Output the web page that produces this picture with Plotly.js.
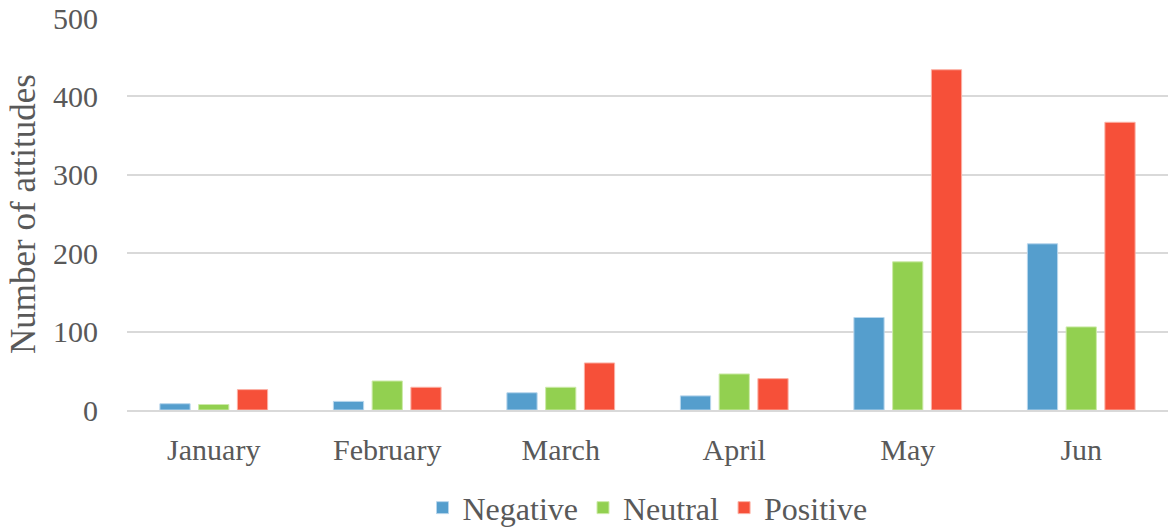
<!DOCTYPE html>
<html>
<head>
<meta charset="utf-8">
<script src="https://cdn.plot.ly/plotly-3.0.1.min.js"></script>
<style>html,body{margin:0;padding:0;background:#fff;}#chart{width:1169px;height:529px;}</style>
</head>
<body>
<div id="chart"></div>
<script>
const months = ["January", "February", "March", "April", "May", "Jun"];
const negative = [8, 11, 22, 18, 118, 212];
const neutral = [7, 37, 29, 46, 189, 106];
const positive = [26, 29, 60, 40, 434, 367];
const seriesNames = ["Negative", "Neutral", "Positive"];
const seriesColors = ["#559ECD", "#92D050", "#F65039"];
const seriesLines = ["#B8D6EC", "#CDEAA9", "#FBB0A4"];
const yTicks = [0, 100, 200, 300, 400, 500];

const values = [negative, neutral, positive];
const traces = values.map((v, i) => ({
  type: "bar",
  name: seriesNames[i],
  x: months,
  y: v,
  marker: {color: seriesColors[i], line: {color: seriesLines[i], width: 1}},
  hoverinfo: "x+y+name"
}));

const font = {family: "'Liberation Serif', 'Times New Roman', serif", color: "#595959"};

const layout = {
  width: 1169,
  height: 529,
  margin: {l: 127, r: 1, t: 18, b: 119, autoexpand: false},
  paper_bgcolor: "#ffffff",
  plot_bgcolor: "#ffffff",
  barmode: "group",
  bargap: 0.33,
  bargroupgap: 0.22,
  font: Object.assign({size: 30}, font),
  showlegend: true,
  legend: {
    orientation: "h",
    x: 0.5, xanchor: "center",
    yref: "container",
    y: 0.04, yanchor: "middle",
    font: Object.assign({size: 32}, font),
    itemwidth: 30,
    traceorder: "normal"
  },
  xaxis: {
    type: "category",
    showgrid: false,
    showline: true,
    linecolor: "#d9d9d9",
    linewidth: 2,
    ticks: "",
    ticklabelstandoff: 12,
    tickfont: Object.assign({size: 30}, font)
  },
  yaxis: {
    range: [0, 500],
    tickvals: yTicks,
    ticktext: yTicks.map(String),
    showgrid: true,
    gridcolor: "#d9d9d9",
    gridwidth: 2,
    zeroline: false,
    showline: false,
    ticks: "",
    ticklabelstandoff: 28,
    tickfont: Object.assign({size: 30}, font),
    title: {text: "Number of attitudes", font: Object.assign({size: 35}, font), standoff: 6}
  }
};

Plotly.newPlot("chart", traces, layout, {displayModeBar: false, staticPlot: true});
</script>
</body>
</html>
